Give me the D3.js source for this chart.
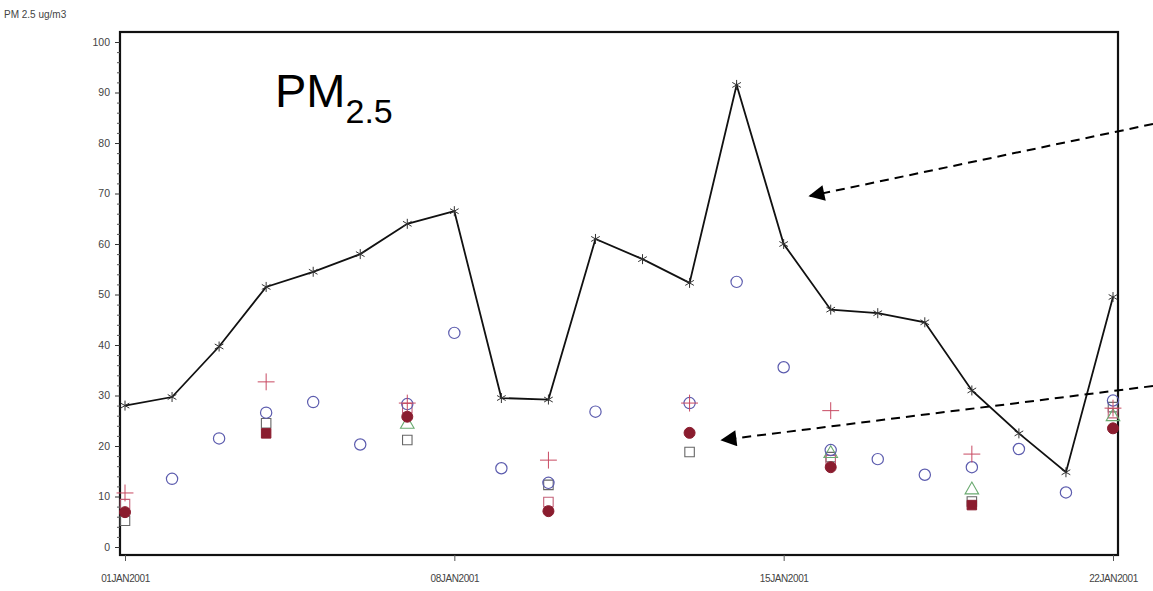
<!DOCTYPE html>
<html><head><meta charset="utf-8">
<script src="https://cdn.jsdelivr.net/npm/d3@7"></script>
<style>
html,body{margin:0;padding:0;background:#fff;}
svg{display:block;}
text{font-family:"Liberation Sans Narrow","Liberation Sans",Arial,sans-serif;}
</style></head>
<body>
<script>
// ---- data ----
const days = d3.range(1, 23);
const totalPM = [28, 29.7, 39.7, 51.5, 54.5, 58, 64, 66.5, 29.5, 29.2, 61, 57, 52.3, 91.5, 60, 47, 46.3, 44.5, 31, 22.5, 14.8, 49.5];
const blueDays = [2,3,4,5,6,7,8,9,10,11,13,14,15,16,17,18,19,20,21,22];
const blueVals = [13.5,21.5,26.6,28.7,20.3,28.3,42.4,15.6,12.7,26.8,28.5,52.5,35.6,19.2,17.4,14.3,15.8,19.4,10.8,29];
const clusterDays = [1,4,7,10,13,16,19,22];
const plusVals = [10.7,32.7,28.5,17.2,28.5,27,18.4,27.5];
const filledCircleVals = [6.9,null,25.8,7.1,22.6,15.8,null,23.5];
const filledSquareVals = [null,22.5,null,null,null,null,8.3,null];
const graySquareVals = [5.2,24.5,21.2,12.3,18.8,17.8,9,27.7];
const redSquareVals = [8.5,null,27.5,8.9,null,17.2,null,26.5];
const triangleVals = [null,null,24.3,null,null,18.5,11.3,25.8];
const yTicks = [0,10,20,30,40,50,60,70,80,90,100];
const xTickDays = [1,8,15,22];
const yLabel = "PM 2.5 ug/m3";

// ---- layout ----
const W = 1153, H = 591;
const svg = d3.select("body").append("svg").attr("width", W).attr("height", H);
const frame = {l:120, r:1118, t:32, b:555};
const dayDate = d => new Date(2001, 0, d);
const x = d3.scaleTime().domain([dayDate(1), dayDate(22)]).range([125, 1113]);
const y = d3.scaleLinear().domain([0, 100]).range([547, 42]);

// frame
svg.append("rect").attr("x", frame.l).attr("y", frame.t)
  .attr("width", frame.r - frame.l).attr("height", frame.b - frame.t)
  .attr("fill", "none").attr("stroke", "#111").attr("stroke-width", 2.2);

// y axis
const yAxis = d3.axisLeft(y).tickValues(yTicks).tickSize(5).tickPadding(5);
const gy = svg.append("g").attr("transform", `translate(${frame.l},0)`).call(yAxis);
gy.select(".domain").remove();
gy.selectAll(".tick line").attr("stroke", "#333");
gy.selectAll(".tick text").attr("font-size", 10.5).attr("fill", "#444");
// minor ticks
const gyMinor = svg.append("g").attr("transform", `translate(${frame.l},0)`)
  .call(d3.axisLeft(y).tickValues(d3.range(0, 101, 2).filter(v => v % 10 !== 0)).tickSize(3).tickFormat(""));
gyMinor.select(".domain").remove();
gyMinor.selectAll(".tick line").attr("stroke", "#555");

// x axis
const fmt = d3.timeFormat("%d%b%Y");
const xAxis = d3.axisBottom(x).tickValues(xTickDays.map(dayDate)).tickSize(6).tickPadding(14)
  .tickFormat(d => fmt(d).toUpperCase());
const gx = svg.append("g").attr("transform", `translate(0,${frame.b})`).call(xAxis);
gx.select(".domain").remove();
gx.selectAll(".tick line").attr("stroke", "#555");
gx.selectAll(".tick text").attr("font-size", 10).attr("fill", "#444").attr("letter-spacing", "-0.4");

// y label
svg.append("text").attr("x", 4).attr("y", 18).attr("font-size", 10).attr("fill", "#444").text(yLabel);

// title
const title = svg.append("text").attr("x", 275).attr("y", 107)
  .attr("font-family", "'Liberation Sans',Arial,sans-serif").attr("font-size", 47).attr("fill", "#000");
title.append("tspan").text("PM");
title.append("tspan").attr("font-size", 34).attr("dy", 16).text("2.5");

// line
const lineData = days.map((d, i) => ({d, v: totalPM[i]}));
svg.append("path").datum(lineData)
  .attr("d", d3.line().x(p => x(dayDate(p.d))).y(p => y(p.v)))
  .attr("fill", "none").attr("stroke", "#111").attr("stroke-width", 1.8);
svg.selectAll(".star").data(lineData).join("path")
  .attr("transform", p => `translate(${x(dayDate(p.d))},${y(p.v)})`)
  .attr("d", d3.symbol(d3.symbolAsterisk, 70))
  .attr("fill", "none").attr("stroke", "#333").attr("stroke-width", 1);

// scatter helper
function scatter(dayArr, vals, sym, size, stroke, fill, sw) {
  const data = dayArr.map((d, i) => ({d, v: vals[i]})).filter(p => p.v != null);
  svg.append("g").selectAll("path").data(data).join("path")
    .attr("transform", p => `translate(${x(dayDate(p.d))},${y(p.v)})`)
    .attr("d", d3.symbol(sym, size))
    .attr("fill", fill).attr("stroke", stroke).attr("stroke-width", sw);
}
scatter(clusterDays, graySquareVals, d3.symbolSquare, 90, "#666", "none", 1.1);
scatter(clusterDays, redSquareVals, d3.symbolSquare, 90, "#c46078", "none", 1.1);
scatter(clusterDays, triangleVals, d3.symbolTriangle, 80, "#6aaa70", "none", 1.1);
scatter(blueDays, blueVals, d3.symbolCircle, 100, "#5c5cae", "none", 1.2);
scatter(clusterDays, plusVals, d3.symbolCross2 || d3.symbolPlus, 95, "#c84a62", "none", 1);
scatter(clusterDays, filledCircleVals, d3.symbolCircle, 95, "#8a1c2e", "#8a1c2e", 1);
scatter(clusterDays, filledSquareVals, d3.symbolSquare, 90, "#8a1c2e", "#8a1c2e", 1);

// annotation arrows
const defs = svg.append("defs");
defs.append("marker").attr("id", "ah").attr("viewBox", "0 0 10 10")
  .attr("refX", 9).attr("refY", 5).attr("markerWidth", 18).attr("markerHeight", 16)
  .attr("markerUnits", "userSpaceOnUse").attr("orient", "auto")
  .append("path").attr("d", "M0,0 L10,5 L0,10 Z").attr("fill", "#000");
const arrows = [[1153,124,810,196],[1153,386,722,440]];
svg.selectAll(".arr").data(arrows).join("line")
  .attr("x1", a => a[0]).attr("y1", a => a[1]).attr("x2", a => a[2]).attr("y2", a => a[3])
  .attr("stroke", "#000").attr("stroke-width", 2).attr("stroke-dasharray", "9,6")
  .attr("marker-end", "url(#ah)");
</script>
</body></html>
